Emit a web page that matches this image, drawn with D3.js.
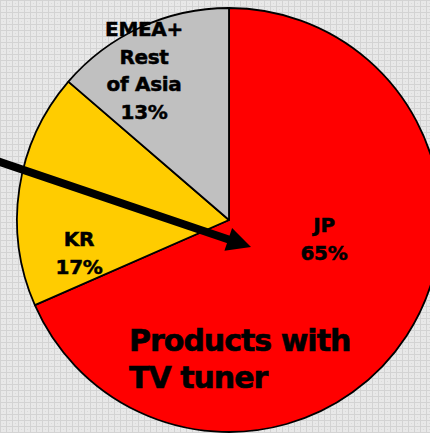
<!DOCTYPE html>
<html>
<head>
<meta charset="utf-8">
<script src="https://cdn.jsdelivr.net/npm/d3@7/dist/d3.min.js"></script>
<style>
  html, body { margin: 0; padding: 0; background: #e6e6e6; }
  svg { display: block; }
</style>
</head>
<body>
<script>
// Regional split of products with a TV tuner
const regions = ["JP", "KR", "EMEA+ Rest of Asia"];
const shares = [65, 17, 13];
const regionColors = ["#ff0000", "#ffcc00", "#c0c0c0"];
// Label lines drawn inside each slice (the last line is the share)
const labelNames = [["JP"], ["KR"], ["EMEA+", "Rest", "of Asia"]];
const titleLines = ["Products with", "TV tuner"];

const W = 430, H = 433;
const cx = 229, cy = 220, radius = 212;

const svg = d3.select("body").append("svg")
  .attr("width", W).attr("height", H);

// Light grey grid backdrop
const defs = svg.append("defs");
const pat = defs.append("pattern")
  .attr("id", "grid").attr("width", 6).attr("height", 6)
  .attr("patternUnits", "userSpaceOnUse");
pat.append("rect").attr("width", 6).attr("height", 6).attr("fill", "#e8e8e8");
pat.append("rect").attr("x", 0).attr("y", 0).attr("width", 6).attr("height", 1).attr("fill", "#d3d3d3");
pat.append("rect").attr("x", 0).attr("y", 0).attr("width", 1).attr("height", 6).attr("fill", "#d3d3d3");
pat.append("rect").attr("x", 3).attr("y", 3).attr("width", 1).attr("height", 1).attr("fill", "#dadada");
svg.append("rect").attr("width", W).attr("height", H).attr("fill", "url(#grid)");

const data = regions.map((r, i) => ({ region: r, share: shares[i], color: regionColors[i], lines: labelNames[i] }));

const pie = d3.pie().sort(null).value(d => d.share);
const arc = d3.arc().innerRadius(0).outerRadius(radius);

const g = svg.append("g").attr("transform", `translate(${cx},${cy})`);

g.selectAll("path.slice")
  .data(pie(data))
  .join("path")
  .attr("class", "slice")
  .attr("d", arc)
  .attr("fill", d => d.data.color)
  .attr("stroke", "#000")
  .attr("stroke-width", 1.8)
  .attr("stroke-linejoin", "round");

// Slice labels: anchor point (relative to pie centre) of the first line
const labelAnchors = { "JP": [95, 12], "KR": [-150, 26], "EMEA+ Rest of Asia": [-85, -184] };
const lineStep = 27.5;

data.forEach(d => {
  const [ax, ay] = labelAnchors[d.region];
  const t = g.append("text")
    .attr("text-anchor", "middle")
    .attr("font-family", "'DejaVu Sans', Verdana, sans-serif")
    .attr("font-weight", "bold")
    .attr("font-size", 20)
    .attr("letter-spacing", -0.3)
    .attr("fill", "#000")
    .attr("stroke", "#000")
    .attr("stroke-width", 0.5);
  const lines = d.lines.concat([`${d.share}%`]);
  lines.forEach((line, k) => {
    t.append("tspan").attr("x", ax).attr("y", ay + k * lineStep).text(line);
  });
});

// Arrow pointing into the pie
const tail = [-6, 160], tip = [251, 247];
const dx = tip[0] - tail[0], dy = tip[1] - tail[1];
const len = Math.hypot(dx, dy);
const ux = dx / len, uy = dy / len;
const headLen = 24, headHalf = 12;
const base = [tip[0] - headLen * ux, tip[1] - headLen * uy];
svg.append("line")
  .attr("x1", tail[0]).attr("y1", tail[1])
  .attr("x2", base[0] + 2 * ux).attr("y2", base[1] + 2 * uy)
  .attr("stroke", "#000").attr("stroke-width", 8);
svg.append("polygon")
  .attr("points", [
    tip,
    [base[0] - headHalf * uy, base[1] + headHalf * ux],
    [base[0] + headHalf * uy, base[1] - headHalf * ux]
  ].map(p => p.join(",")).join(" "))
  .attr("fill", "#000");

// Caption inside the large slice
const cap = svg.append("text")
  .attr("font-family", "'DejaVu Sans', Verdana, sans-serif")
  .attr("font-weight", "bold")
  .attr("font-size", 30)
  .attr("letter-spacing", -1)
  .attr("fill", "#000")
  .attr("stroke", "#000")
  .attr("stroke-width", 0.6);
titleLines.forEach((line, k) => {
  cap.append("tspan").attr("x", 129).attr("y", 351 + k * 37).text(line);
});
</script>
</body>
</html>
